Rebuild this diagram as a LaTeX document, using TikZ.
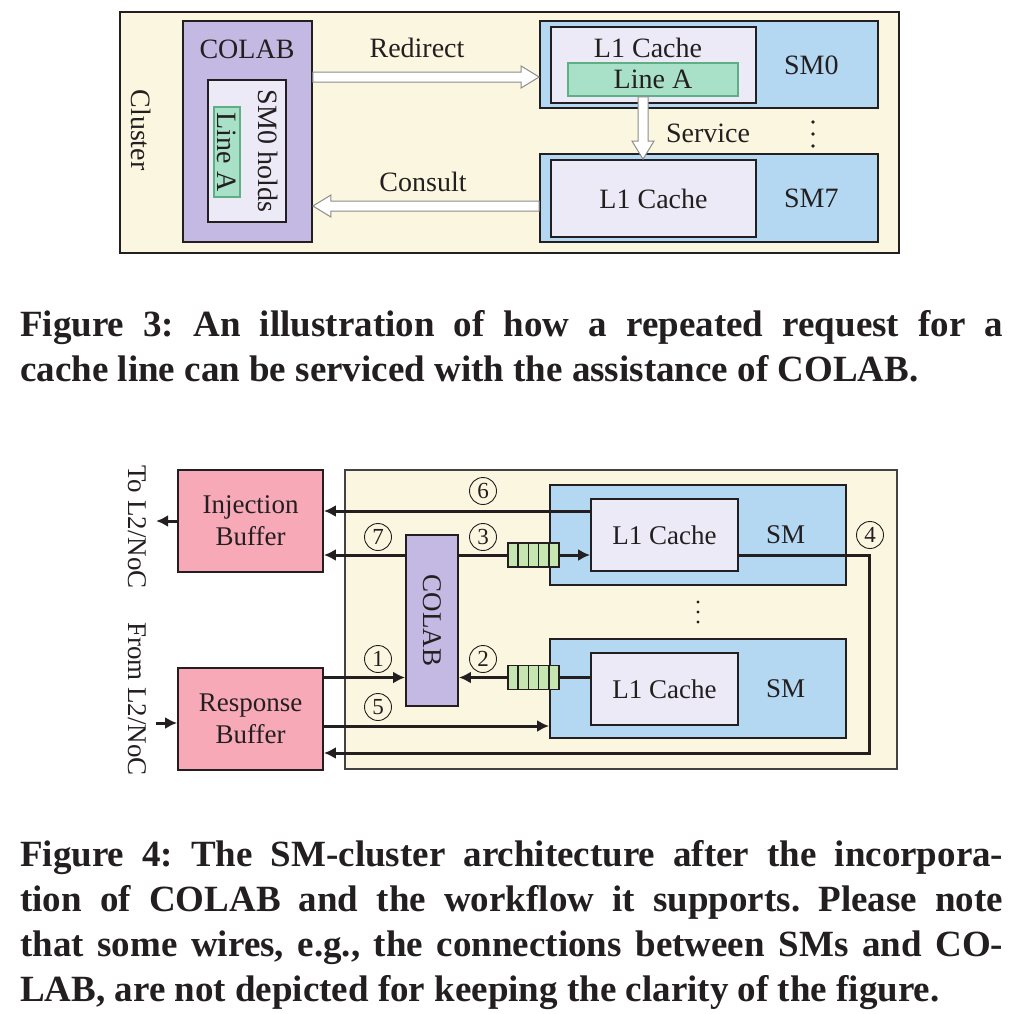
\documentclass[tikz,border=0pt]{standalone}
\usepackage{fontspec}
\setmainfont{Liberation Serif}
\newfontfamily\capfont{Liberation Serif Bold}
\usepackage{xcolor}
\definecolor{ink}{RGB}{35, 31, 32}
\definecolor{cream}{RGB}{251, 246, 223}
\definecolor{lavender}{RGB}{195, 185, 226}
\definecolor{paleviolet}{RGB}{236, 234, 246}
\definecolor{skyblue}{RGB}{181, 216, 242}
\definecolor{mint}{RGB}{168, 224, 200}
\definecolor{mintline}{RGB}{94, 175, 132}
\definecolor{rose}{RGB}{247, 169, 184}
\definecolor{qgreen}{RGB}{197, 230, 176}
\usepackage{tikz}
\usetikzlibrary{positioning, calc, arrows.meta}
\frenchspacing
\tikzset{
  blk/.style = {
    draw=ink,
    line width=1.8pt,
    inner sep=0pt,
    text=ink
  },
  lbl/.style = {
    font=\fontsize{28}{32}\selectfont,
    inner sep=0pt,
    text=ink
  },
  lblsm/.style = {
    font=\fontsize{27}{32}\selectfont,
    inner sep=0pt,
    text=ink
  },
  hollow/.style = {
    draw=black!45,
    fill=white,
    line width=1pt,
    line join=miter
  },
  wire/.style = {
    draw=ink,
    line width=3pt
  },
  arrow/.style = {
    wire,
    -{Latex[length=12pt, width=12pt]}
  },
  num/.style = {
    circle,
    draw=ink,
    line width=0.9pt,
    inner sep=0pt,
    minimum size=27pt,
    font=\fontsize{23}{23}\selectfont,
    text=ink
  },
  queue/.style = {
    draw=ink,
    fill=qgreen,
    line width=1.5pt,
    minimum width=51pt,
    minimum height=24pt,
    inner sep=0pt,
    path picture={
      \foreach \i in {1,...,4}
        \draw[ink, line width=1.5pt]
          ($(path picture bounding box.south west)!\i/5!(path picture bounding box.south east)$) --
          ($(path picture bounding box.north west)!\i/5!(path picture bounding box.north east)$);
    }
  },
  caption/.style = {
    anchor=base west,
    inner sep=0pt,
    font=\capfont\fontsize{37}{45}\selectfont,
    text=ink
  },
}
% white arrow with a grey outline, from #1 to #2
\newcommand{\hollowarrow}[2]{%
  \coordinate (hb) at ($(#2)!18pt!(#1)$);
  \draw[hollow] ($(#1)!5pt!90:(#2)$) -- ($(hb)!5pt!-90:(#1)$) -- ($(hb)!11pt!-90:(#1)$) -- (#2)
    -- ($(hb)!11pt!90:(#1)$) -- ($(hb)!5pt!90:(#1)$) -- ($(#1)!5pt!-90:(#2)$) -- cycle;%
}

\begin{document}
\begin{tikzpicture}[x=1pt, y=-1pt]
    \useasboundingbox (0,0) rectangle (1021,1013);

    % Figure 3
    \node[blk, fill=cream, minimum width=779pt, minimum height=241pt] (clu3)  at (509.5,132.5) {};
    \node[lbl, rotate=-90] (clulbl) at (141,130) {Cluster};
    \node[blk, fill=lavender, minimum width=129pt, minimum height=221pt] (colab3) at (247.5,131.5) {};
    \node[lbl] at (247,49) {COLAB};
    \node[blk, fill=paleviolet, minimum width=78pt, minimum height=142pt] (hold) at (247,151) {};
    \node[lbl, rotate=-90] (holdlbl) at (268,151) {SM0 holds};
    \node[blk, draw=mintline, fill=mint, minimum width=26pt, minimum height=90pt] (linev) at (227,152) {};
    \node[lbl, rotate=-90] at (linev) {Line A};

    \node[blk, fill=skyblue, minimum width=338pt, minimum height=87pt] (sm0) at (709,64.5) {};
    \node[blk, fill=paleviolet, minimum width=205pt, minimum height=76pt] (l1a) at (653.5,65) {};
    \node[lbl] at (648,48) {L1 Cache};
    \node[blk, draw=mintline, fill=mint, minimum width=170pt, minimum height=33pt] (lineh) at (653,79.5) {};
    \node[lbl] at (lineh) {Line A};
    \node[lbl, right=27pt of l1a] {SM0};

    \node[blk, fill=skyblue, minimum width=338pt, minimum height=88pt] (sm7) at (709,198) {};
    \node[blk, fill=paleviolet, minimum width=205pt, minimum height=77pt, lbl] (l1b) at (653.5,198.5) {L1 Cache};
    \node[lbl, right=27pt of l1b] {SM7};

    \coordinate (rdS) at (colab3.east |- 0,77);
    \coordinate (rdE) at (sm0.west |- 0,77);
    \coordinate (csS) at (sm7.west |- 0,206);
    \coordinate (csE) at (colab3.east |- 0,206);
    \coordinate (svS) at ([xshift=-10pt]lineh.south);
    \coordinate (svE) at (l1b.north -| svS);
    \hollowarrow{rdS}{rdE}
    \hollowarrow{csS}{csE}
    \hollowarrow{svS}{svE}
    \node[lbl] at (417,48) {Redirect};
    \node[lbl] at (423,182) {Consult};
    \node[lbl] at (708,133) {Service};
    \foreach \d in {-12,0,12}
      \fill[ink] (813,134+\d) circle (1.9pt);

    \node[caption] at (20,336) {\makebox[983pt][s]{Figure 3: An illustration of how a repeated request for a}};
    \node[caption] at (20,381) {cache line can be serviced with the assistance of COLAB.};

    % Figure 4
    \node[blk, fill=rose, minimum width=145pt, minimum height=102pt, lblsm, align=center] (inj) at (250.5,521) {Injection\\Buffer};
    \node[blk, fill=rose, minimum width=145pt, minimum height=102pt, lblsm, align=center] (resp) at (250.5,719) {Response\\Buffer};
    \node[lblsm, rotate=-90] at (137,527) {To L2/NoC};
    \node[lblsm, rotate=-90] at (137,699) {From L2/NoC};

    \node[blk, draw=ink!85, line width=1.6pt, fill=cream, minimum width=552pt, minimum height=299pt] (clu4) at (621,619.5) {};
    \node[blk, fill=lavender, minimum width=52pt, minimum height=171pt] (colab4) at (432,620.5) {};
    \node[lblsm, rotate=-90] at (colab4) {COLAB};

    \node[blk, fill=skyblue, minimum width=296pt, minimum height=100pt] (smA) at (698,535) {};
    \node[blk, fill=paleviolet, minimum width=147pt, minimum height=72pt, lblsm] (l1c) at (664.5,535) {L1 Cache};
    \node[lblsm, right=27pt of l1c] {SM};
    \node[blk, fill=skyblue, minimum width=296pt, minimum height=99pt] (smB) at (698,688.5) {};
    \node[blk, fill=paleviolet, minimum width=147pt, minimum height=72pt, lblsm] (l1d) at (664.5,689) {L1 Cache};
    \node[lblsm, right=27pt of l1d] {SM};
    \foreach \d in {-10,0,10}
      \fill[ink] (698,612+\d) circle (1.7pt);

    \node[queue] (qA) at (533.5,555) {};
    \node[queue] (qB) at (533.5,677.5) {};

    \draw[arrow] (inj.west) -- ++(-21,0);
    \draw[arrow] ([xshift=-21pt, yshift=-4pt]resp.west) -- ([yshift=-4pt]resp.west);
    \draw[arrow] (l1c.west |- 0,511) -- (inj.east |- 0,511);
    \draw[arrow] (colab4.west |- qA) -- (inj.east |- qA);
    \draw[wire] (colab4.east |- qA) -- (qA.west);
    \draw[arrow] (qA.east) -- (l1c.west |- qA);
    \draw[wire] (l1d.west |- qB) -- (qB.east);
    \draw[arrow] (qB.west) -- (colab4.east |- qB);
    \draw[arrow] (resp.east |- qB) -- (colab4.west |- qB);
    \draw[arrow] (resp.east |- 0,726) -- (smB.west |- 0,726);
    \draw[arrow] (l1c.east |- qA) -- ++(131,0) |- (resp.east |- 0,753);

    \node[num] at (483,491) {6};
    \node[num] at (378,537) {7};
    \node[num] at (483,537) {3};
    \node[num] at (483,659) {2};
    \node[num] at (378,659) {1};
    \node[num] at (378,707) {5};
    \node[num] at (870,535) {4};

    \node[caption] at (20,866) {\makebox[983pt][s]{Figure 4: The SM-cluster architecture after the incorpora-}};
    \node[caption] at (20,911) {\makebox[983pt][s]{tion of COLAB and the workflow it supports. Please note}};
    \node[caption] at (20,956) {\makebox[983pt][s]{that some wires, e.g., the connections between SMs and CO-}};
    \node[caption] at (20,1001) {LAB, are not depicted for keeping the clarity of the figure.};
  \end{tikzpicture}
\end{document}
